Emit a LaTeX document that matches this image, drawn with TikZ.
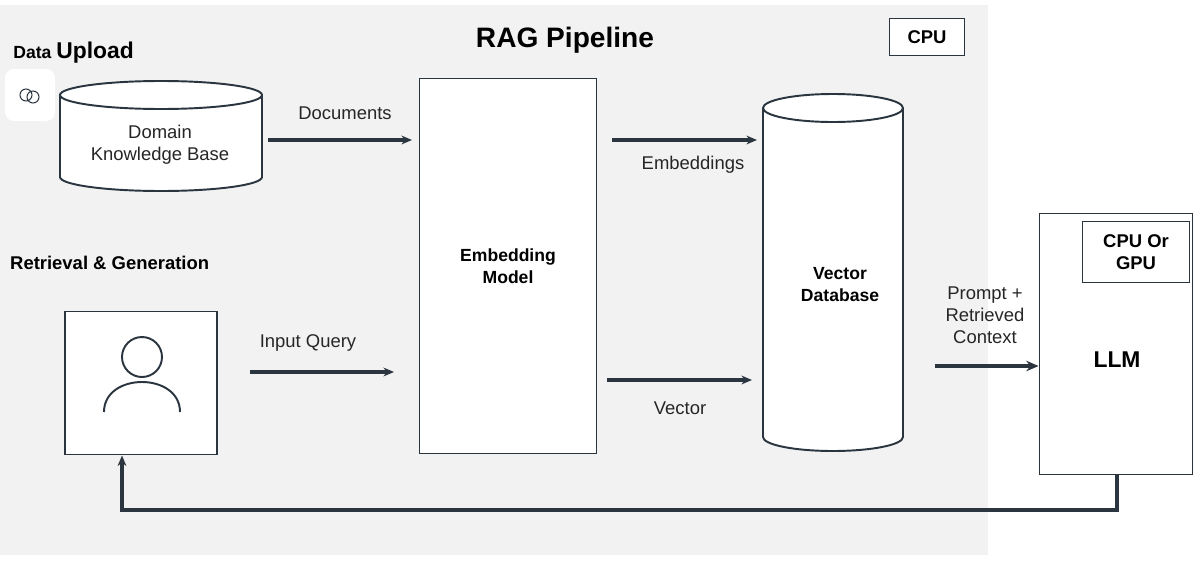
\documentclass[tikz,border=0pt]{standalone}
\usepackage{fontspec}
\setmainfont{Liberation Sans}
\usetikzlibrary{arrows.meta}
\definecolor{ln}{HTML}{2B3540}
\definecolor{bg}{HTML}{F2F2F2}
\begin{document}
\begin{tikzpicture}[x=0.02cm,y=-0.02cm,
  lbl/.style={font=\fontsize{10.5}{12.5}\selectfont, text=black!85, align=center},
  bx/.style={draw=ln, line width=1.1pt, fill=white},
  arr/.style={draw=ln, line width=1.8pt, -{Stealth[length=6pt,width=5pt]}}]
\useasboundingbox (0,0) rectangle (1200,575);
\fill[bg] (0,5) rectangle (988,555);
\node[font=\bfseries\fontsize{16}{18}\selectfont] (title) at (565,40) {RAG Pipeline};
\node[bx, minimum width=75*0.02cm, minimum height=37*0.02cm, font=\bfseries\fontsize{10.5}{12}\selectfont] (cpu) at (927,37) {CPU};
\node[anchor=west, inner sep=0] (du) at (13,53) {\bfseries\fontsize{10}{12}\selectfont Data \fontsize{13}{15}\selectfont Upload};
\node[fill=white, rounded corners=5pt, minimum width=50*0.02cm, minimum height=52*0.02cm] (icon) at (30,95) {};
\draw[ln, line width=0.6pt] (26,95) circle (6) (33,97) circle (6);
% cylinder KB
\draw[bx] (60,95) -- (60,177) arc[start angle=180,end angle=0,x radius=101,y radius=14] -- (262,95) arc[start angle=0,end angle=-180,x radius=101,y radius=14] -- cycle;
\draw[ln, line width=1.1pt] (60,95) arc[start angle=180,end angle=0,x radius=101,y radius=14];
\node[lbl] (kb) at (160,145) {Domain\\Knowledge Base};
% embedding model
\node[bx, minimum width=177*0.02cm, minimum height=375*0.02cm, font=\bfseries\fontsize{10}{12.5}\selectfont, align=center] (emb) at (508,266) {Embedding\\Model};
% vector db
\draw[bx] (763,108) -- (763,437) arc[start angle=180,end angle=0,x radius=70,y radius=14] -- (903,108) arc[start angle=0,end angle=-180,x radius=70,y radius=14] -- cycle;
\draw[ln, line width=1.1pt] (763,108) arc[start angle=180,end angle=0,x radius=70,y radius=14];
\node[font=\bfseries\fontsize{10}{12.5}\selectfont, align=center] (vdb) at (840,285) {Vector\\Database};
% LLM
\node[bx, minimum width=153*0.02cm, minimum height=261*0.02cm] (llm) at (1116,344) {};
\node[font=\bfseries\fontsize{13}{15}\selectfont] (llmt) at (1117,360) {LLM};
\node[bx, minimum width=107*0.02cm, minimum height=61*0.02cm, font=\bfseries\fontsize{10.5}{12.5}\selectfont, align=center] (gpu) at (1136,252) {CPU Or\\GPU};
% user
\node[bx, minimum width=152*0.02cm, minimum height=143*0.02cm] (user) at (141,383) {};
\draw[ln, line width=1.1pt] (142,357) circle (20);
\draw[ln, line width=1.1pt] (104,412) .. controls (104,372) and (180,372) .. (180,412);
\node[font=\bfseries\fontsize{10.5}{12}\selectfont, anchor=west] (rg) at (4,263) {Retrieval \& Generation};
% arrows
\coordinate (a1) at (268,140); \coordinate (a2) at (412,140);
\draw[arr] (a1) -- (a2);
\node[lbl] (docs) at (345,113) {Documents};
\coordinate (b1) at (612,140); \coordinate (b2) at (757,140);
\draw[arr] (b1) -- (b2);
\node[lbl] (embs) at (693,165) {Embeddings};
\coordinate (c1) at (250,372); \coordinate (c2) at (394,372);
\draw[arr] (c1) -- (c2);
\node[lbl] (iq) at (308,343) {Input Query};
\coordinate (d1) at (607,380); \coordinate (d2) at (752,380);
\draw[arr] (d1) -- (d2);
\node[lbl] (vec) at (680,408) {Vector};
\coordinate (e1) at (935,366);
\draw[draw=ln, line width=2.8pt, -{Stealth[length=7pt,width=6pt]}] (e1) -- (llm.west |- e1);
\node[lbl] (pr) at (985,315) {Prompt +\\Retrieved\\Context};
\coordinate (f1) at (1117,510); \coordinate (f2) at (122,510);
\draw[arr] (llm.south -| f1) -- (f1) -- (f2) -- (user.south -| f2);
\end{tikzpicture}
\end{document}
